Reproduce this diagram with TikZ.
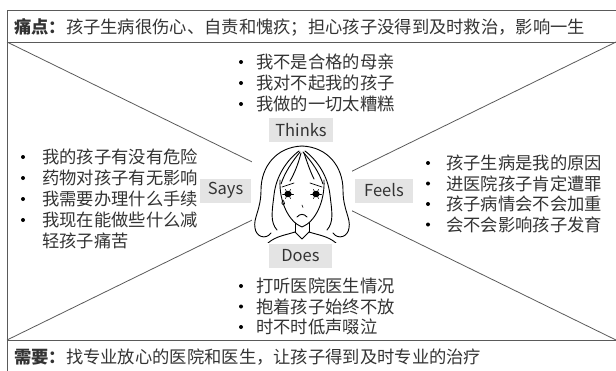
\documentclass[tikz,border=0pt]{standalone}
\usepackage{fontspec}
\setmainfont{Noto Sans CJK SC}
\definecolor{ink}{HTML}{333333}
\definecolor{tagfill}{HTML}{E4E4E4}
\definecolor{rule}{HTML}{5A5A5A}
\tikzset{
  tag/.style={fill=tagfill, inner sep=0pt, minimum height=24pt, text=ink,
    font=\fontsize{16.5}{16.5}\selectfont},
  item/.style={anchor=west, inner sep=0pt, text=ink,
    font=\fontsize{17.3}{21}\selectfont},
  dot/.style={circle, fill=black, inner sep=0pt, minimum size=4pt},
  face/.style={line width=0.9pt, line cap=round, line join=round}
}
\begin{document}
\begin{tikzpicture}[x=1pt,y=-1pt]
  \useasboundingbox (0,0) rectangle (616,370);
  \clip (0,0) rectangle (616,370);

  \coordinate (tl) at (7,42);
  \coordinate (tr) at (616,42);
  \coordinate (bl) at (7,340);
  \coordinate (br) at (616,340);

  \draw[rule, line width=0.9pt] (7,10) rectangle (640,390);
  \draw[rule, line width=0.9pt] (tl) -- (tr);
  \draw[rule, line width=0.9pt] (bl) -- (br);
  \draw[rule, line width=0.8pt] (tl) -- (br);
  \draw[rule, line width=0.8pt] (tr) -- (bl);

  \node[item] (pain) at (14,27) {\textbf{痛点：}孩子生病很伤心、自责和愧疚；担心孩子没得到及时救治，影响一生};
  \node[item] (need) at (14,357) {\textbf{需要：}找专业放心的医院和医生，让孩子得到及时专业的治疗};

  % face
  \fill[white] (252,143) rectangle (352,242);
  \begin{scope}[face]
    \clip (252,143) rectangle (352,242);
    \draw (302,146) .. controls (276,147) and (261,167) .. (261,190)
      .. controls (261,210) and (253,218) .. (255,228)
      .. controls (256,237) and (266,240) .. (271,233);
    \draw (302,146) .. controls (328,147) and (343,167) .. (343,190)
      .. controls (343,210) and (351,218) .. (349,228)
      .. controls (348,237) and (338,240) .. (333,233);
    \draw (280,180) .. controls (279,202) and (289,222) .. (302,227)
      .. controls (315,222) and (325,202) .. (324,180);
    \draw (299,151) .. controls (287,160) and (276,176) .. (274,195)
      .. controls (272,212) and (270,222) .. (277,230);
    \draw (305,151) .. controls (317,160) and (328,176) .. (330,195)
      .. controls (332,212) and (334,222) .. (327,230);
    \draw (300,152) .. controls (292,162) and (285,172) .. (281,184);
    \draw (301,153) .. controls (298,165) and (294,174) .. (290,181);
    \draw (303,152) .. controls (312,162) and (319,172) .. (323,184);
    \draw (304,153) .. controls (308,165) and (311,173) .. (314,179);
    \draw[line width=0.7pt] (282,187) -- (294,183);
    \draw[line width=0.7pt] (310,183) -- (322,187);
    \fill (288,194) ellipse (3.6pt and 3.2pt);
    \fill (316,194) ellipse (3.6pt and 3.2pt);
    \foreach \a in {0,60,120,180,240,300}{
      \draw[line width=0.5pt] (288,194) -- ++(\a:5.5);
      \draw[line width=0.5pt] (316,194) -- ++(\a:5.5);
    }
    \draw[line width=0.6pt] (283,200) .. controls (281,203) and (282,205) .. (283.5,205)
      .. controls (285,205) and (285,203) .. (283,200);
    \draw[line width=0.6pt] (302,205) -- (303,207.5);
    \draw (297,217) .. controls (300,213.5) and (304,213.5) .. (307,217);
    \draw (295,223) -- (295,232);
    \draw (309,223) -- (309,232);
    \draw (295,232) -- (302,239) -- (309,232);
    \draw (295,232) .. controls (286,235) and (276,236) .. (268,243);
    \draw (309,232) .. controls (318,235) and (328,236) .. (336,243);
  \end{scope}

  \node[tag, minimum width=64pt] (thinks) at (301,130) {Thinks};
  \node[tag, minimum width=51pt] (says) at (225.5,190.5) {Says};
  \node[tag, minimum width=58pt] (feels) at (384,190.5) {Feels};
  \node[tag, minimum width=63pt] (does) at (300.5,255.5) {Does};

  \foreach \t [count=\k] in {我不是合格的母亲,我对不起我的孩子,我做的一切太糟糕}{
    \node[dot] (think-dot-\k) at (241,41+21*\k) {};
    \node[item] (think-\k) at (256,41+21*\k) {\t};
  }
  \foreach \t [count=\k] in {我的孩子有没有危险,药物对孩子有无影响,我需要办理什么手续,我现在能做些什么减}{
    \node[dot] (say-dot-\k) at (23,136+21*\k) {};
    \node[item] (say-\k) at (42,136+21*\k) {\t};
  }
  \node[item] (say-5) at (42,241) {轻孩子痛苦};
  \foreach \t [count=\k] in {孩子生病是我的原因,进医院孩子肯定遭罪,孩子病情会不会加重,会不会影响孩子发育}{
    \node[dot] (feel-dot-\k) at (428,142.5+20.5*\k) {};
    \node[item] (feel-\k) at (446,142.5+20.5*\k) {\t};
  }
  \foreach \t [count=\k] in {打听医院医生情况,抱着孩子始终不放,时不时低声啜泣}{
    \node[dot] (do-dot-\k) at (241,265.5+20.5*\k) {};
    \node[item] (do-\k) at (256,265.5+20.5*\k) {\t};
  }
\end{tikzpicture}
\end{document}
